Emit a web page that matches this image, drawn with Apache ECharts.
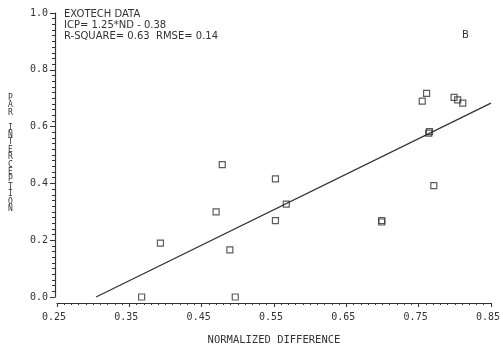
<!DOCTYPE html>
<html>
<head>
<meta charset="utf-8">
<script src="https://cdn.jsdelivr.net/npm/echarts@6/dist/echarts.min.js"></script>
<style>html,body{margin:0;padding:0;background:#fff;}#c{width:503px;height:351px;}</style>
</head>
<body>
<div id="c"></div>
<script>
// Observed data (normalized difference vs PAR interception)
const ndValues = [0.367, 0.393, 0.4785, 0.470, 0.489, 0.4965, 0.552, 0.552, 0.567, 0.699, 0.699, 0.755, 0.761, 0.764, 0.765, 0.771, 0.799, 0.804, 0.811];
const icpValues = [0.0, 0.19, 0.466, 0.30, 0.166, 0.0, 0.416, 0.269, 0.327, 0.269, 0.264, 0.69, 0.717, 0.577, 0.582, 0.392, 0.703, 0.694, 0.683];
// Regression line end points (ICP = 1.25*ND - 0.38)
const fitX = [0.304, 0.85];
const fitY = [0.0, 0.6825];
// Axis ticks
const xTicks = ['0.25', '0.35', '0.45', '0.55', '0.65', '0.75', '0.85'];
const yTicks = ['0.0', '0.2', '0.4', '0.6', '0.8', '1.0'];
const annotation = ['EXOTECH DATA', 'ICP= 1.25*ND - 0.38', 'R-SQUARE= 0.63  RMSE= 0.14'];
const panelLetter = 'B';
const yName = 'PAR INTERCEPTION';
const xName = 'NORMALIZED DIFFERENCE';

const ink = '#333';
const mono = 'DejaVu Sans Mono';
const chart = echarts.init(document.getElementById('c'), null, {renderer: 'canvas'});
const pts = ndValues.map((x, i) => [x, icpValues[i]]);
const fit = fitX.map((x, i) => [x, fitY[i]]);

chart.setOption({
  animation: false,
  backgroundColor: '#fff',
  grid: {left: 57, right: 11, top: 13, bottom: 43},
  xAxis: {
    type: 'value', min: 0.25, max: 0.85, interval: 0.1, offset: 6,
    axisLine: {show: true, onZero: false, lineStyle: {color: ink, width: 1.2}},
    axisTick: {show: true, inside: false, length: 4, lineStyle: {color: ink}},
    minorTick: {show: true, splitNumber: 10, length: 2, lineStyle: {color: ink}},
    splitLine: {show: false},
    axisLabel: {color: ink, fontFamily: mono, fontSize: 10, margin: 9, padding: [0, 6, 0, 0],
      formatter: v => { const s = v.toFixed(2); return xTicks.includes(s) ? s : ''; }},
    name: xName, nameLocation: 'middle', nameGap: 32,
    nameTextStyle: {color: ink, fontFamily: mono, fontSize: 10.5}
  },
  yAxis: {
    type: 'value', min: 0, max: 1.0, interval: 0.2, offset: 2,
    axisLine: {show: true, onZero: false, lineStyle: {color: ink, width: 1.2}},
    axisTick: {show: true, inside: false, length: 5, lineStyle: {color: ink}},
    minorTick: {show: true, splitNumber: 10, length: 3, lineStyle: {color: ink}},
    splitLine: {show: false},
    axisLabel: {color: ink, fontFamily: mono, fontSize: 10, margin: 7,
      formatter: v => { const s = v.toFixed(1); return yTicks.includes(s) ? s : ''; }}
  },
  graphic: [
    {type: 'text', left: 64, top: 9,
      style: {text: annotation.join('\n'), font: '10px "DejaVu Sans"', fill: ink, lineHeight: 11}},
    {type: 'text', left: 462, top: 30,
      style: {text: panelLetter, font: '10px "DejaVu Sans"', fill: ink}},
    {type: 'text', left: 8, top: 94,
      style: {text: yName.split('').join('\n'), font: '8px "DejaVu Sans Mono"', fill: ink, lineHeight: 7.4, align: 'center'}}
  ],
  series: [
    {type: 'line', data: fit, showSymbol: false, symbol: 'none',
      lineStyle: {color: ink, width: 1.3}, z: 2},
    {type: 'scatter', data: pts, symbol: 'rect', symbolSize: 6,
      itemStyle: {color: 'rgba(255,255,255,0)', borderColor: ink, borderWidth: 1.2}, z: 3}
  ]
});
</script>
</body>
</html>
